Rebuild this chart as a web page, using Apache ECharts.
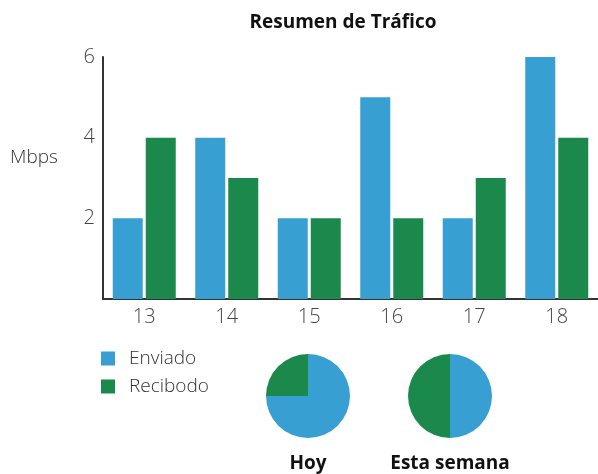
<!DOCTYPE html>
<html>
<head>
<meta charset="utf-8">
<style>
html,body{margin:0;padding:0;background:#fff;}
#chart{width:598px;height:474px;}
</style>
<script src="https://cdn.jsdelivr.net/npm/echarts@6/dist/echarts.min.js"></script>
</head>
<body>
<div id="chart"></div>
<script>
const categories = ['13', '14', '15', '16', '17', '18'];
const enviado = [2, 4, 2, 5, 2, 6];
const recibodo = [4, 3, 2, 2, 3, 4];
const yTicks = [0, 2, 4, 6];
const pieHoy = [3, 1];          // Enviado, Recibodo
const pieSemana = [1, 1];       // Enviado, Recibodo
const seriesNames = ['Enviado', 'Recibodo'];

const BLUE = '#389fd3';
const GREEN = '#1c894c';
const FONT = '"Open Sans", "Noto Sans", sans-serif';

const chart = echarts.init(document.getElementById('chart'));
chart.setOption({
  animation: false,
  color: [BLUE, GREEN],
  textStyle: { fontFamily: FONT },
  title: [
    { text: 'Resumen de Tráfico', left: 338, top: 8, textAlign: 'center',
      textStyle: { fontFamily: FONT, fontWeight: 'bold', fontSize: 19, color: '#111' } },
    { text: 'Mbps', left: 5, top: 143,
      textStyle: { fontFamily: FONT, fontWeight: 300, fontSize: 19, color: '#333' } },
    { text: 'Hoy', left: 303, top: 449, textAlign: 'center',
      textStyle: { fontFamily: FONT, fontWeight: 'bold', fontSize: 19, color: '#111' } },
    { text: 'Esta semana', left: 445, top: 449, textAlign: 'center',
      textStyle: { fontFamily: FONT, fontWeight: 'bold', fontSize: 19, color: '#111' } }
  ],
  legend: {
    data: seriesNames,
    orient: 'vertical',
    left: 96,
    top: 344,
    itemWidth: 14,
    itemHeight: 14,
    itemGap: 9,
    icon: 'rect',
    textStyle: { fontFamily: FONT, fontWeight: 300, fontSize: 19, color: '#333', padding: [0, 0, 0, 9] },
    selectedMode: false
  },
  grid: { left: 103, top: 57, width: 497, height: 242, containLabel: false },
  xAxis: {
    type: 'category',
    data: categories,
    axisLine: { lineStyle: { color: '#333', width: 2 } },
    axisTick: { show: false },
    axisLabel: { fontFamily: FONT, fontWeight: 300, fontSize: 20, color: '#444', margin: 8 }
  },
  yAxis: {
    type: 'value',
    min: yTicks[0],
    max: yTicks[yTicks.length - 1],
    interval: 2,
    axisLine: { show: true, lineStyle: { color: '#333', width: 2 } },
    axisTick: { show: false },
    splitLine: { show: false },
    axisLabel: {
      fontFamily: FONT, fontWeight: 300, fontSize: 20, color: '#444', margin: 8,
      formatter: v => (v === 0 ? '' : String(v))
    }
  },
  series: [
    { name: seriesNames[0], type: 'bar', data: enviado, barWidth: 30, barGap: '10%' },
    { name: seriesNames[1], type: 'bar', data: recibodo, barWidth: 30, barGap: '10%' },
    {
      type: 'pie', center: [308, 396], radius: 42, silent: true,
      label: { show: false }, labelLine: { show: false },
      data: [{ name: seriesNames[0], value: pieHoy[0] }, { name: seriesNames[1], value: pieHoy[1] }]
    },
    {
      type: 'pie', center: [450, 396], radius: 42, silent: true,
      label: { show: false }, labelLine: { show: false },
      data: [{ name: seriesNames[0], value: pieSemana[0] }, { name: seriesNames[1], value: pieSemana[1] }]
    }
  ]
});
</script>
</body>
</html>
